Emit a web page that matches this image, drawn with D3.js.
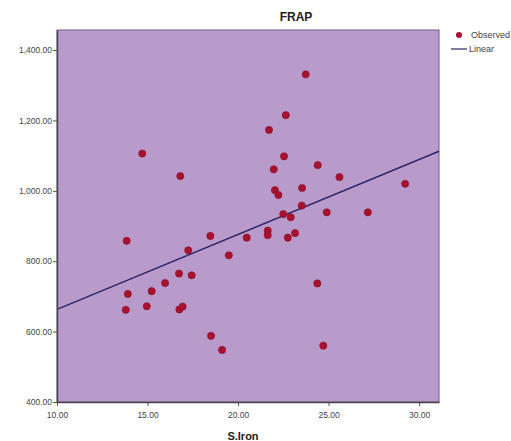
<!DOCTYPE html>
<html lang="en">
<head>
<meta charset="UTF-8">
<title>FRAP</title>
<script src="https://cdn.jsdelivr.net/npm/d3@7"></script>
<style>
  body { margin: 0; background: #fff; }
  svg { display: block; font-family: "Liberation Sans", Arial, sans-serif; }
</style>
</head>
<body>
<script>
// S.Iron (x) and FRAP (y)
const sIron = [14.71, 16.81, 23.74, 22.64, 21.71, 22.54, 21.97, 24.40, 25.60, 22.04,
               22.23, 23.54, 23.52, 22.50, 22.91, 24.90, 27.17, 29.23, 21.64, 21.64,
               22.75, 23.15, 20.48, 18.47, 19.49, 24.38, 18.51, 19.12, 24.71, 13.85,
               17.25, 16.74, 17.44, 15.97, 15.23, 13.91, 14.96, 13.80, 16.76, 16.94]
const frap = [1106, 1042, 1331, 1215, 1173, 1098, 1061, 1073, 1039, 1002,
              988, 1008, 958, 934, 925, 939, 939, 1020, 887, 874,
              867, 880, 867, 872, 817, 737, 588, 548, 560, 858,
              831, 765, 760, 738, 715, 707, 672, 662, 663, 671]
// linear fit: FRAP = intercept + slope * S.Iron
const fitIntercept = 450
const fitSlope = 21.3

const xTicks = [10, 15, 20, 25, 30]
const yTicks = [400, 600, 800, 1000, 1200, 1400]

const w = 511, h = 441
const mLeft = 57, mRight = 439, mTop = 30, mBottom = 402

const svg = d3.select("body").append("svg").attr("width", w).attr("height", h)

const x = d3.scaleLinear().domain([10, 31.1]).range([mLeft, mRight])
const y = d3.scaleLinear().domain([400, 1457]).range([mBottom, mTop])

// plot background
svg.append("rect")
  .attr("x", mLeft).attr("y", mTop)
  .attr("width", mRight - mLeft).attr("height", mBottom - mTop)
  .attr("fill", "#b89bcb")
  .attr("stroke", "#6e5f7c")
  .attr("stroke-width", 1)

// regression line
const xd = x.domain()
svg.append("line")
  .attr("x1", x(xd[0])).attr("y1", y(fitIntercept + fitSlope * xd[0]))
  .attr("x2", x(xd[1])).attr("y2", y(fitIntercept + fitSlope * xd[1]))
  .attr("stroke", "#2e2464")
  .attr("stroke-width", 1.4)

// observed points
svg.append("g").selectAll("circle")
  .data(sIron.map((v, i) => [v, frap[i]]))
  .enter().append("circle")
  .attr("cx", d => x(d[0]))
  .attr("cy", d => y(d[1]))
  .attr("r", 3.6)
  .attr("fill", "#a8122e")
  .attr("stroke", "#8a0c26")
  .attr("stroke-width", 0.6)

// axes
const xAxis = d3.axisBottom(x).tickValues(xTicks).tickFormat(d3.format(".2f")).tickSize(4).tickSizeOuter(0)
const yAxis = d3.axisLeft(y).tickValues(yTicks).tickFormat(d3.format(",.2f")).tickSize(4).tickSizeOuter(0)

const gx = svg.append("g").attr("transform", `translate(0,${mBottom})`).call(xAxis)
const gy = svg.append("g").attr("transform", `translate(${mLeft},0)`).call(yAxis)

for (const g of [gx, gy]) {
  g.select(".domain").attr("stroke", "#4a4452").attr("stroke-width", 1.5)
  g.selectAll(".tick line").attr("stroke", "#555")
  g.selectAll(".tick text").attr("fill", "#444").attr("font-size", 8.5)
    .attr("font-family", "Liberation Sans, Arial, sans-serif")
}
gx.selectAll(".tick text").attr("dy", "1.1em")
gy.selectAll(".tick text").attr("x", -5)

// title and axis label
svg.append("text").attr("x", 296).attr("y", 21)
  .attr("text-anchor", "middle").attr("font-size", 12).attr("font-weight", "bold")
  .attr("fill", "#222").text("FRAP")

svg.append("text").attr("x", 243).attr("y", 440)
  .attr("text-anchor", "middle").attr("font-size", 11).attr("font-weight", "bold")
  .attr("fill", "#222").text("S.Iron")

// legend
const lg = svg.append("g")
lg.append("circle").attr("cx", 459).attr("cy", 35).attr("r", 3).attr("fill", "#a8122e")
lg.append("text").attr("x", 471).attr("y", 38).attr("font-size", 9).attr("fill", "#444").text("Observed")
lg.append("line").attr("x1", 451).attr("x2", 467).attr("y1", 49).attr("y2", 49)
  .attr("stroke", "#2e2464").attr("stroke-width", 1.2)
lg.append("text").attr("x", 469).attr("y", 52).attr("font-size", 9).attr("fill", "#444").text("Linear")
</script>
</body>
</html>
